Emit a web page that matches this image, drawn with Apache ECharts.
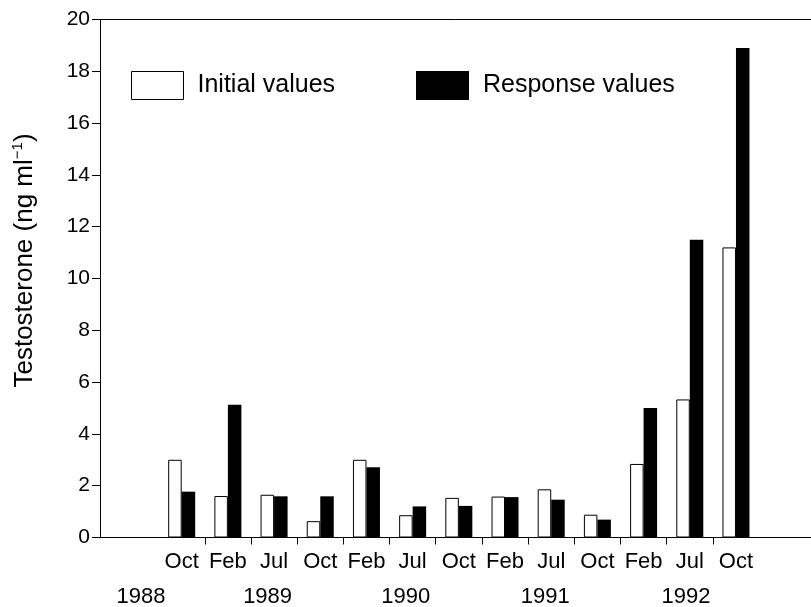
<!DOCTYPE html>
<html>
<head>
<meta charset="utf-8">
<script src="https://cdn.jsdelivr.net/npm/echarts@6/dist/echarts.min.js"></script>
<style>
  html, body { margin: 0; padding: 0; background: #fff; }
  #chart { width: 811px; height: 607px; }
</style>
</head>
<body>
<div id="chart"></div>
<script>
// Sampling months, one group of bars per visit
const months = ['Oct', 'Feb', 'Jul', 'Oct', 'Feb', 'Jul', 'Oct', 'Feb', 'Jul', 'Oct', 'Feb', 'Jul', 'Oct'];
// Testosterone (ng/ml) before and after stimulation
const initialValues  = [3.0, 1.6, 1.65, 0.63, 3.0, 0.86, 1.53, 1.58, 1.86, 0.88, 2.84, 5.33, 11.2];
const responseValues = [1.77, 5.13, 1.59, 1.59, 2.71, 1.2, 1.22, 1.56, 1.46, 0.69, 5.0, 11.5, 18.9];
// Year captions under the month labels
const yearLabels = ['1988', '1989', '1990', '1991', '1992'];
const yTicks = [0, 2, 4, 6, 8, 10, 12, 14, 16, 18, 20];

// Layout: where each year caption sits, in month-boundary units of the tick axis
const YEAR_AT = [-1.38, 1.36, 4.35, 7.37, 10.42];

const FONT = '"Liberation Sans", Arial, Helvetica, sans-serif';
const INK = '#000';
const PLOT_TOP = 19.5, PLOT_BOTTOM = 69.5;
const SLOT = 46.19;           // width of one month slot
const FIRST_SLOT_LEFT = 158.6;

const chart = echarts.init(document.getElementById('chart'), null, { renderer: 'canvas' });

const hiddenY = (grid) => ({
  type: 'value', gridIndex: grid, min: yTicks[0], max: yTicks[yTicks.length - 1],
  show: false
});

const legendText = { fontFamily: FONT, fontSize: 25, color: INK, padding: [0, 0, 0, 9] };

const option = {
  backgroundColor: '#fff',
  animation: false,
  textStyle: { fontFamily: FONT, color: INK },
  grid: [
    // frame: y axis, baseline, top rule
    { left: 100, right: 0, top: PLOT_TOP, bottom: PLOT_BOTTOM },
    // bars, one slot per month
    { left: FIRST_SLOT_LEFT, width: SLOT * months.length, top: PLOT_TOP, bottom: PLOT_BOTTOM },
    // tick marks between months
    { left: FIRST_SLOT_LEFT + SLOT, width: SLOT * (months.length - 2), top: PLOT_TOP, bottom: PLOT_BOTTOM }
  ],
  legend: [
    {
      data: ['Initial values'], left: 131, top: 71, padding: 0, icon: 'rect',
      itemWidth: 52, itemHeight: 28, selectedMode: false,
      itemStyle: { borderColor: INK, borderWidth: 1 },
      textStyle: legendText
    },
    {
      data: ['Response values'], left: 416, top: 71, padding: 0, icon: 'rect',
      itemWidth: 53, itemHeight: 29, selectedMode: false,
      textStyle: legendText
    }
  ],
  xAxis: [
    {
      type: 'value', gridIndex: 0, min: 0, max: 1, position: 'bottom',
      axisLine: { show: true, lineStyle: { color: INK, width: 1 } },
      axisTick: { show: false }, axisLabel: { show: false }, splitLine: { show: false }
    },
    {
      type: 'value', gridIndex: 0, min: 0, max: 1, position: 'top',
      axisLine: { show: true, lineStyle: { color: INK, width: 1 } },
      axisTick: { show: false }, axisLabel: { show: false }, splitLine: { show: false }
    },
    {
      type: 'category', gridIndex: 1, data: months,
      axisLine: { show: false }, axisTick: { show: false },
      axisLabel: { fontFamily: FONT, fontSize: 22, color: INK, margin: 13, interval: 0 }
    },
    {
      type: 'value', gridIndex: 2, min: 0, max: months.length - 2, interval: 1,
      axisLine: { show: false },
      axisTick: { show: true, length: 7, lineStyle: { color: INK, width: 1 } },
      axisLabel: { show: false }, splitLine: { show: false }
    }
  ],
  yAxis: [
    {
      type: 'value', gridIndex: 0, min: yTicks[0], max: yTicks[yTicks.length - 1], interval: 2,
      axisLine: { show: true, lineStyle: { color: INK, width: 1 } },
      axisTick: { show: true, length: 8, lineStyle: { color: INK, width: 1 } },
      axisLabel: { fontFamily: FONT, fontSize: 21, color: INK, margin: 10 },
      splitLine: { show: false },
      name: '{a|Testosterone (ng ml}{b|−1}{a|)}',
      nameLocation: 'middle', nameGap: 60,
      nameTextStyle: {
        padding: [0, 0, 0, 36],
        rich: {
          a: { fontFamily: FONT, fontSize: 26, color: INK, lineHeight: 30 },
          b: { fontFamily: FONT, fontSize: 15, color: INK, lineHeight: 30, verticalAlign: 'top' }
        }
      }
    },
    hiddenY(1),
    hiddenY(2)
  ],
  series: [
    {
      name: 'Initial values', type: 'bar', xAxisIndex: 2, yAxisIndex: 1,
      data: initialValues, barWidth: 13.5, barGap: '0%',
      itemStyle: { color: '#fff', borderColor: INK, borderWidth: 1 }
    },
    {
      name: 'Response values', type: 'bar', xAxisIndex: 2, yAxisIndex: 1,
      data: responseValues, barWidth: 13.5, barGap: '0%',
      itemStyle: { color: INK }
    }
  ]
};

chart.setOption(option);

// Year captions, placed along the month tick axis
const baseY = chart.convertToPixel({ yAxisIndex: 0 }, 0);
chart.setOption({
  graphic: yearLabels.map((year, i) => ({
    type: 'text',
    x: chart.convertToPixel({ xAxisIndex: 3 }, YEAR_AT[i]),
    y: baseY + 59.5,
    style: {
      text: year, fontFamily: FONT, fontSize: 22, fill: INK,
      textAlign: 'center', textVerticalAlign: 'middle'
    }
  }))
});
</script>
</body>
</html>
